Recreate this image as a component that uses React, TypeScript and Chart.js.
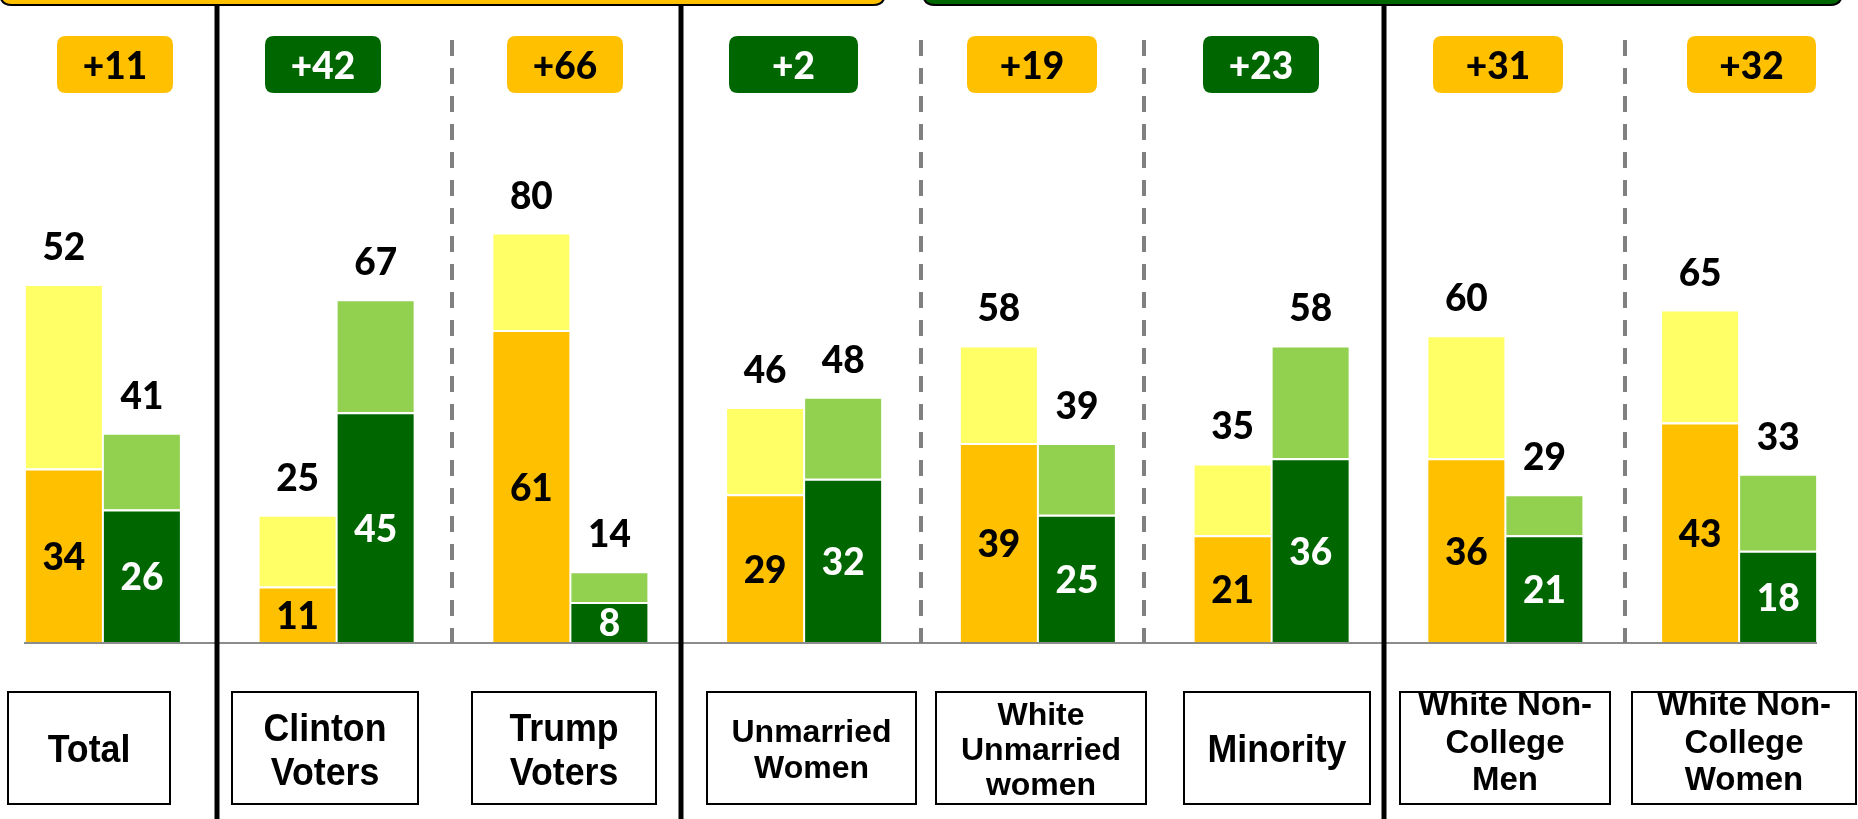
import React, { useEffect, useRef } from "react";
import { Chart, registerables } from "chart.js";

Chart.register(...registerables);

// ---------------- DATA ----------------
const categories = [
  "Total",
  "Clinton Voters",
  "Trump Voters",
  "Unmarried Women",
  "White Unmarried women",
  "Minority",
  "White Non-College Men",
  "White Non-College Women",
];
const categoryLines = [
  ["Total"],
  ["Clinton", "Voters"],
  ["Trump", "Voters"],
  ["Unmarried", "Women"],
  ["White", "Unmarried", "women"],
  ["Minority"],
  ["White Non-", "College", "Men"],
  ["White Non-", "College", "Women"],
];
// printed totals of the yellow/orange series
const yellowTotals = [52, 25, 80, 46, 58, 35, 60, 65];
// height the yellow bar is drawn to in the reference (the Total bar is drawn at ~70)
const yellowBarHeights = [70, 25, 80, 46, 58, 35, 60, 65];
const yellowStrong = [34, 11, 61, 29, 39, 21, 36, 43];
const greenTotals = [41, 67, 14, 48, 39, 58, 29, 33];
const greenStrong = [26, 45, 8, 32, 25, 36, 21, 18];
const marginLabels = ["+11", "+42", "+66", "+2", "+19", "+23", "+31", "+32"];
const marginLeader = ["yellow", "green", "yellow", "green", "yellow", "green", "yellow", "yellow"];

// ---------------- LAYOUT / STYLE ----------------
const PAGE_W = 1858;
const PAGE_H = 819;
const OFFSET_X = 30; // canvas begins 30px left of the page
const CANVAS_W = PAGE_W + OFFSET_X;

const COLORS = {
  orange: "#FFC000",
  yellow: "#FFFF66",
  darkGreen: "#006600",
  lightGreen: "#92D050",
};

const badgeLefts = [57, 265, 507, 729, 967, 1203, 1433, 1687];
const badgeWidths = [116, 116, 116, 129, 130, 116, 130, 129];
const BADGE_TOP = 36;
const BADGE_H = 57;

const boxEdges = [
  [8, 170],
  [232, 418],
  [472, 656],
  [707, 916],
  [936, 1146],
  [1184, 1370],
  [1400, 1610],
  [1632, 1856],
];
const BOX_TOP = 692;
const BOX_BOTTOM = 804;
const boxFontSizes = [38, 38, 38, 32, 32, 38, 33, 33];
const boxXScale = [0.94, 0.94, 0.94, 1, 1, 0.94, 1, 1];
const boxFirstBaselines = [762, 741, 741, 742, 725, 762, 715, 715];
const boxLineHeights = [0, 44, 44, 36, 35, 0, 37.5, 37.5];

const solidLinesX = [217, 681, 1384];
const dashedLinesX = [452, 921, 1144, 1625];

const NUM_FONT = "900 37px Lato, 'Open Sans', sans-serif";

function roundRect(ctx: CanvasRenderingContext2D, x: number, y: number, w: number, h: number, r: number) {
  ctx.beginPath();
  ctx.moveTo(x + r, y);
  ctx.lineTo(x + w - r, y);
  ctx.quadraticCurveTo(x + w, y, x + w, y + r);
  ctx.lineTo(x + w, y + h - r);
  ctx.quadraticCurveTo(x + w, y + h, x + w - r, y + h);
  ctx.lineTo(x + r, y + h);
  ctx.quadraticCurveTo(x, y + h, x, y + h - r);
  ctx.lineTo(x, y + r);
  ctx.quadraticCurveTo(x, y, x + r, y);
  ctx.closePath();
}

const overlayPlugin = {
  id: "overlay",
  afterDatasetsDraw(chart: any) {
    const ctx: CanvasRenderingContext2D = chart.ctx;
    const px = (x: number) => x + OFFSET_X;
    ctx.save();

    // top banners
    ctx.lineWidth = 2;
    ctx.strokeStyle = "#000";
    roundRect(ctx, px(0), -40, 885, 45, 12);
    ctx.fillStyle = COLORS.orange;
    ctx.fill();
    ctx.stroke();
    roundRect(ctx, px(923), -40, 919, 45, 12);
    ctx.fillStyle = COLORS.darkGreen;
    ctx.fill();
    ctx.stroke();

    // baseline
    const bottom = chart.chartArea.bottom;
    ctx.strokeStyle = "#8c8c8c";
    ctx.lineWidth = 2;
    ctx.beginPath();
    ctx.moveTo(px(24), bottom);
    ctx.lineTo(px(1817), bottom);
    ctx.stroke();

    // dashed separators
    ctx.strokeStyle = "#808080";
    ctx.lineWidth = 4;
    ctx.setLineDash([16, 12]);
    dashedLinesX.forEach((x) => {
      ctx.beginPath();
      ctx.moveTo(px(x), 40);
      ctx.lineTo(px(x), bottom);
      ctx.stroke();
    });
    ctx.setLineDash([]);

    // solid separators
    ctx.strokeStyle = "#000";
    ctx.lineWidth = 5;
    solidLinesX.forEach((x) => {
      ctx.beginPath();
      ctx.moveTo(px(x), 5);
      ctx.lineTo(px(x), PAGE_H);
      ctx.stroke();
    });

    // value labels
    const mYS = chart.getDatasetMeta(0);
    const mYR = chart.getDatasetMeta(1);
    const mGS = chart.getDatasetMeta(2);
    const mGR = chart.getDatasetMeta(3);
    ctx.font = NUM_FONT;
    ctx.textAlign = "center";
    ctx.textBaseline = "alphabetic";
    categories.forEach((_, i) => {
      const ys = mYS.data[i];
      const yr = mYR.data[i];
      const gs = mGS.data[i];
      const gr = mGR.data[i];
      ctx.fillStyle = "#000";
      ctx.fillText(String(yellowTotals[i]), yr.x, yr.y - 24);
      ctx.fillText(String(greenTotals[i]), gr.x, gr.y - 24);
      ctx.fillText(String(yellowStrong[i]), ys.x, (ys.y + ys.base) / 2 + 14);
      ctx.fillStyle = "#fff";
      ctx.fillText(String(greenStrong[i]), gs.x, (gs.y + gs.base) / 2 + 14);
    });

    // margin badges
    marginLabels.forEach((lab, i) => {
      const lead = marginLeader[i];
      roundRect(ctx, px(badgeLefts[i]), BADGE_TOP, badgeWidths[i], BADGE_H, 9);
      ctx.fillStyle = lead === "green" ? COLORS.darkGreen : COLORS.orange;
      ctx.fill();
      ctx.fillStyle = lead === "green" ? "#fff" : "#000";
      ctx.font = NUM_FONT;
      ctx.fillText(lab, px(badgeLefts[i] + badgeWidths[i] / 2), 79);
    });

    // category boxes
    categoryLines.forEach((lines, i) => {
      const [l, r] = boxEdges[i];
      ctx.fillStyle = "#fff";
      ctx.fillRect(px(l), BOX_TOP, r - l, BOX_BOTTOM - BOX_TOP);
      ctx.strokeStyle = "#000";
      ctx.lineWidth = 2;
      ctx.strokeRect(px(l), BOX_TOP, r - l, BOX_BOTTOM - BOX_TOP);
      ctx.fillStyle = "#000";
      ctx.font = `bold ${boxFontSizes[i]}px 'Liberation Sans', Arial, sans-serif`;
      const cx = px((l + r) / 2);
      lines.forEach((t, k) => {
        ctx.save();
        ctx.translate(cx, boxFirstBaselines[i] + k * boxLineHeights[i]);
        ctx.scale(boxXScale[i], 1);
        ctx.fillText(t, 0, 0);
        ctx.restore();
      });
    });

    ctx.restore();
  },
};

export default function App() {
  const canvasRef = useRef<HTMLCanvasElement | null>(null);

  useEffect(() => {
    const canvas = canvasRef.current;
    if (!canvas) return;
    const border = { top: 2, left: 1, right: 1, bottom: 0 };
    const chart = new Chart(canvas, {
      type: "bar",
      data: {
        labels: categories,
        datasets: [
          {
            label: "Yellow strong",
            data: yellowStrong,
            backgroundColor: COLORS.orange,
            borderColor: "#fff",
            borderWidth: border,
            borderSkipped: "start",
            stack: "yellow",
          },
          {
            label: "Yellow rest",
            data: yellowBarHeights.map((t, i) => t - yellowStrong[i]),
            backgroundColor: COLORS.yellow,
            borderColor: "#fff",
            borderWidth: border,
            borderSkipped: "start",
            stack: "yellow",
          },
          {
            label: "Green strong",
            data: greenStrong,
            backgroundColor: COLORS.darkGreen,
            borderColor: "#fff",
            borderWidth: border,
            borderSkipped: "start",
            stack: "green",
          },
          {
            label: "Green rest",
            data: greenTotals.map((t, i) => t - greenStrong[i]),
            backgroundColor: COLORS.lightGreen,
            borderColor: "#fff",
            borderWidth: border,
            borderSkipped: "start",
            stack: "green",
          },
        ],
      },
      options: {
        responsive: false,
        animation: false,
        devicePixelRatio: 1,
        layout: { padding: { left: 16, right: 2, top: 130, bottom: 176 } },
        datasets: { bar: { categoryPercentage: 0.6675, barPercentage: 1 } },
        scales: {
          x: { stacked: true, display: false },
          y: { stacked: true, display: false, min: 0, max: 100 },
        },
        plugins: { legend: { display: false }, tooltip: { enabled: false } },
      } as any,
      plugins: [overlayPlugin],
    });
    if ((document as any).fonts) {
      Promise.all([
        (document as any).fonts.load("900 37px Lato"),
        (document as any).fonts.load("bold 36px 'Liberation Sans'"),
      ])
        .then(() => chart.draw())
        .catch(() => {});
    }
    return () => chart.destroy();
  }, []);

  return (
    <div
      style={{
        position: "fixed",
        left: 0,
        top: 0,
        width: PAGE_W,
        height: PAGE_H,
        overflow: "hidden",
        background: "#fff",
      }}
    >
      <canvas
        ref={canvasRef}
        width={CANVAS_W}
        height={PAGE_H}
        style={{ position: "absolute", left: -OFFSET_X, top: 0, width: CANVAS_W, height: PAGE_H }}
      />
    </div>
  );
}
